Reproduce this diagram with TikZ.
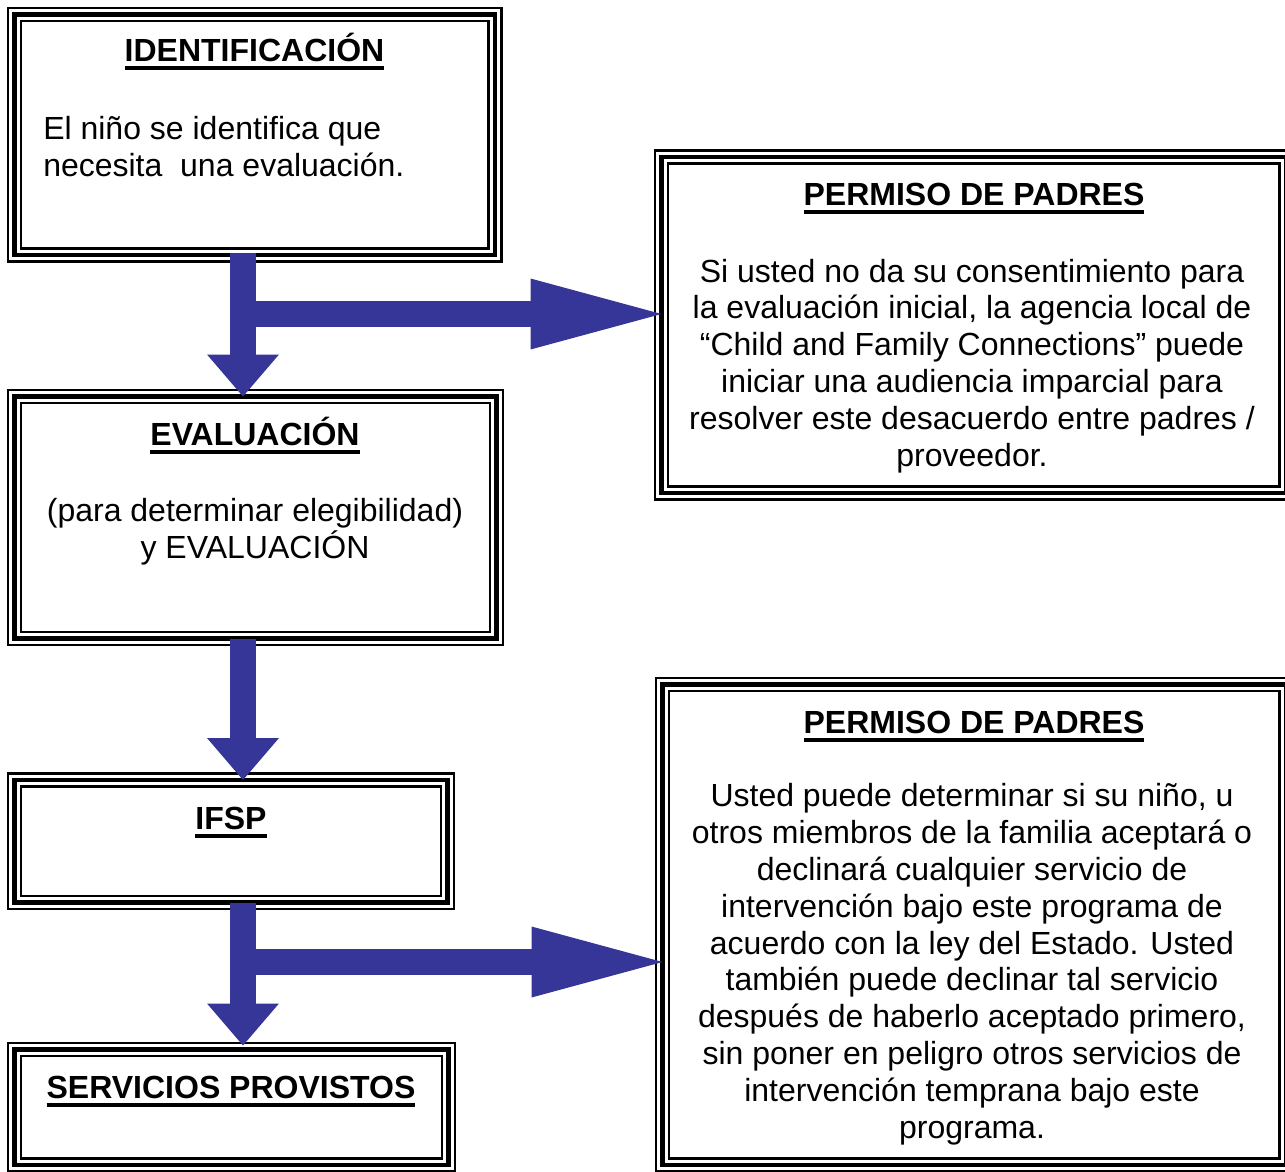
\documentclass[tikz,border=0pt]{standalone}
\usepackage{fontspec}
\setmainfont{Liberation Sans}
\usetikzlibrary{fit,arrows.meta}
\definecolor{arrowblue}{RGB}{54,54,153}
\newcommand\ulbf[1]{\setbox0\hbox{\bfseries #1}\rlap{\rule[-6.75pt]{\wd0}{3pt}}\box0}
\newcommand\triframe[1]{%
 \draw[thinframe] ([shift={(-6.5,-6.5)}]#1.north west) rectangle ([shift={(6.5,6.5)}]#1.south east);
 \draw[thinframe] ([shift={(6.5,6.5)}]#1.north west) rectangle ([shift={(-6.5,-6.5)}]#1.south east);}
\tikzset{
 tribox/.style={draw, line width=3.4pt, inner sep=0pt, outer sep=0pt},
 thinframe/.style={line width=1.6pt},
 txt/.style={font=\fontsize{24pt}{27.6pt}\selectfont, inner sep=0pt},
 vdown/.style={draw=arrowblue, line width=19.5pt, line cap=butt,
   -{Triangle[width=54pt,length=31.5pt,line width=0pt]}},
 hright/.style={draw=arrowblue, line width=19.5pt, line cap=butt,
   -{Triangle[width=53.25pt,length=98.25pt,line width=0pt]}},
}
\begin{document}
\begin{tikzpicture}[x=0.75pt,y=-0.75pt]
\useasboundingbox (0,0) rectangle (1285,1171);
\clip (0,0) rectangle (1285,1171);
% boxes
\node[tribox, fit={(14.5,14.5) (495,255)}] (id) {};
\node[tribox, fit={(14.5,396.5) (496.5,638.5)}] (ev) {};
\node[tribox, fit={(14.5,780) (447.5,902.5)}] (ifsp) {};
\node[tribox, fit={(14.5,1049.5) (448.5,1165)}] (serv) {};
\node[tribox, fit={(661.5,157) (1286,493)}] (pp1) {};
\node[tribox, fit={(662.5,684.5) (1286,1165)}] (pp2) {};
\triframe{id}
\triframe{ev}
\triframe{ifsp}
\triframe{serv}
\triframe{pp1}
\triframe{pp2}
% texts (multi-line nodes: base = last line's baseline)
\node[txt, anchor=base] (t1) at (254.5,61) {\ulbf{IDENTIFICACIÓN}};
\node[txt, anchor=base west, align=left] (b1) at (43,176) {El niño se identifica que\\necesita\ \ una evaluación.};
\node[txt, anchor=base] (t2) at (974,205) {\ulbf{PERMISO DE PADRES}};
\node[txt, anchor=base, align=center] (b2) at (972,466) {Si usted no da su consentimiento para\\la evaluación inicial, la agencia local de\\“Child and Family Connections” puede\\iniciar una audiencia imparcial para\\resolver este desacuerdo entre padres /\\proveedor.};
\node[txt, anchor=base] (t3) at (255,445) {\ulbf{EVALUACIÓN}};
\node[txt, anchor=base, align=center] (b3) at (255,558) {(para determinar elegibilidad)\\y EVALUACIÓN};
\node[txt, anchor=base] (t4) at (231,829) {\ulbf{IFSP}};
\node[txt, anchor=base] (t5) at (231,1098) {\ulbf{SERVICIOS PROVISTOS}};
\node[txt, anchor=base] (t6) at (974,733) {\ulbf{PERMISO DE PADRES}};
\node[txt, anchor=base, align=center] (b6) at (972,1138) {Usted puede determinar si su niño, u\\otros miembros de la familia aceptará o\\declinará cualquier servicio de\\intervención bajo este programa de\\acuerdo con la ley del Estado. Usted\\también puede declinar tal servicio\\después de haberlo aceptado primero,\\sin poner en peligro otros servicios de\\intervención temprana bajo este\\programa.};
% arrows
\coordinate (c1) at (243,0);
\coordinate (j1) at (243,314);
\coordinate (j2) at (243,962);
\draw[vdown, shorten <=-1.5pt] (id.south -| c1) -- (ev.north -| c1);
\draw[vdown] (ev.south -| c1) -- (ifsp.north -| c1);
\draw[vdown, shorten >=3pt] (ifsp.south -| c1) -- (serv.north -| c1);
\draw[hright] (j1) -- (pp1.west |- j1);
\draw[hright] (j2) -- (pp2.west |- j2);
\end{tikzpicture}
\end{document}
